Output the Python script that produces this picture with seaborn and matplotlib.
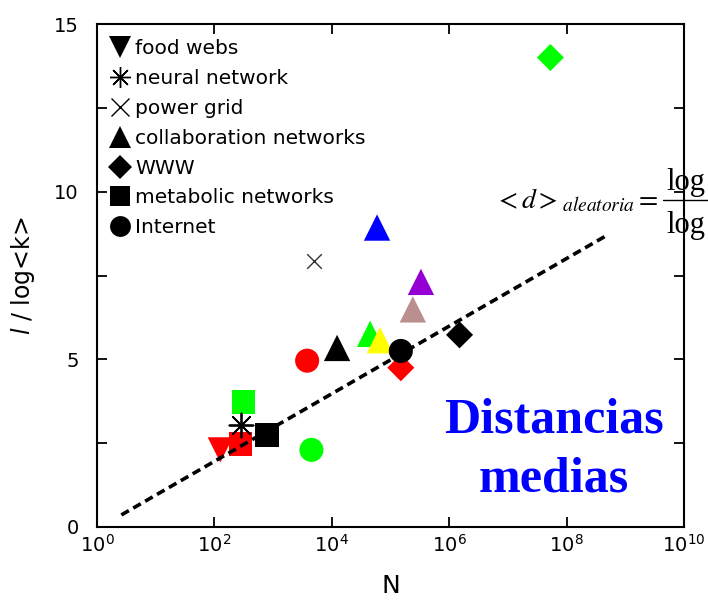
import matplotlib
matplotlib.use("Agg")
import matplotlib.pyplot as plt
from matplotlib.lines import Line2D
import seaborn as sns
import pandas as pd

# ---------------- data ----------------
types = ["food webs", "neural network", "power grid", "collaboration networks",
         "WWW", "metabolic networks", "Internet"]

pt_type = ["food webs", "neural network", "power grid",
           "collaboration networks", "collaboration networks", "collaboration networks",
           "collaboration networks", "collaboration networks", "collaboration networks",
           "WWW", "WWW", "WWW",
           "metabolic networks", "metabolic networks", "metabolic networks",
           "Internet", "Internet", "Internet"]
pt_N = [126, 282, 4941,
        59000, 330000, 240000, 45000, 66000, 12300,
        5.3e7, 1.5e5, 1.5e6,
        315, 790, 280,
        3800, 1.5e5, 4500]
pt_val = [2.30, 3.04, 7.94,
          8.93, 7.31, 6.49, 5.76, 5.57, 5.34,
          14.0, 4.75, 5.73,
          3.73, 2.75, 2.48,
          4.96, 5.25, 2.30]
pt_color = ["red", "black", "black",
            "blue", "purple", "rosybrown", "green", "yellow", "black",
            "green", "red", "black",
            "green", "black", "red",
            "red", "black", "green"]

line_N = [2.6, 5.1e8]
line_val = [0.36, 8.72]

x_ticks = [1e0, 1e2, 1e4, 1e6, 1e8, 1e10]
y_ticks = [0, 5, 10, 15]

# ---------------- style ----------------
sns.set_style("ticks")
plt.rcParams["font.family"] = ["DejaVu Sans"]
plt.rcParams["mathtext.fontset"] = "dejavusans"
for k in ("text.color", "axes.labelcolor", "xtick.color", "ytick.color",
          "axes.edgecolor"):
    plt.rcParams[k] = "black"

color_map = {"red": "#ff0000", "black": "#000000", "blue": "#0000ff",
             "purple": "#9400d3", "rosybrown": "#bc8f8f", "green": "#00ff00",
             "yellow": "#ffff00"}
marker_map = {"food webs": "v", "neural network": (8, 2, 0), "power grid": "x",
              "collaboration networks": "^", "WWW": "D",
              "metabolic networks": "s", "Internet": "o"}
size_map = {"food webs": 330, "collaboration networks": 360, "WWW": 190,
            "metabolic networks": 290, "Internet": 300}
legend_ms = {"food webs": 16, "neural network": 15, "power grid": 13,
             "collaboration networks": 16, "WWW": 12, "metabolic networks": 14,
             "Internet": 15}

df = pd.DataFrame({"type": pt_type, "N": pt_N, "val": pt_val, "color": pt_color})
filled = df[df["type"].isin(size_map.keys())]
lineart = df[~df["type"].isin(size_map.keys())]

W, H = 708, 604
fig = plt.figure(figsize=(W / 100, H / 100), dpi=100)
ax = fig.add_axes([97 / W, 1 - 527 / H, (684 - 97) / W, (527 - 24) / H])

sns.scatterplot(data=filled, x="N", y="val", hue="color", style="type", size="type",
                palette=color_map, markers={k: marker_map[k] for k in size_map},
                sizes=size_map, linewidth=0, legend=False, ax=ax, zorder=3)
sns.scatterplot(data=lineart[lineart["type"] == "power grid"], x="N", y="val",
                color="#333333", marker="x", s=110, linewidth=1.0, legend=False,
                ax=ax, zorder=3)
sns.scatterplot(data=lineart[lineart["type"] == "neural network"], x="N", y="val",
                color="black", marker=(8, 2, 0), s=300, linewidth=1.3, legend=False,
                ax=ax, zorder=3)

sns.lineplot(x=line_N, y=line_val, color="black", lw=2.6, ax=ax, zorder=4)
ax.lines[-1].set_dashes([2.4, 1.4])

ax.set_xscale("log")
ax.set_xlim(1e0, 1e10)
ax.set_ylim(0, 15)
ax.set_xticks(x_ticks)
ax.xaxis.set_minor_locator(matplotlib.ticker.NullLocator())
ax.set_yticks(y_ticks)
ax.set_yticks([2.5, 7.5, 12.5], minor=True)
ax.tick_params(which="both", direction="in", top=True, right=True, width=1.3,
               length=7, labelsize=14, pad=5, colors="black")
ax.tick_params(axis="y", pad=13)
for sp in ax.spines.values():
    sp.set_linewidth(1.5)
    sp.set_visible(True)
    sp.set_color("black")

ax.set_xlabel("N", fontsize=18, labelpad=13, color="black")
ax.set_ylabel("$l$ / log<k>", fontsize=17, labelpad=12, color="black")

handles = [Line2D([], [], ls="", marker=marker_map[t], color="black",
                  markersize=legend_ms[t],
                  markeredgewidth=(1.0 if t in ("power grid", "neural network") else 0))
           for t in types]
leg = ax.legend(handles, types, loc="upper left", bbox_to_anchor=(0.024, 0.970),
                frameon=False, fontsize=14.5, handlelength=0.9, handletextpad=0.3,
                labelspacing=0.54, borderaxespad=0, borderpad=0)
for t in leg.get_texts():
    t.set_color("black")

ax.text(0.778, 0.187, "Distancias", transform=ax.transAxes, ha="center",
        va="baseline", color="#0000ff", fontsize=36, fontweight="bold",
        family="Liberation Serif", zorder=5)
ax.text(0.778, 0.0696, "medias", transform=ax.transAxes, ha="center",
        va="baseline", color="#0000ff", fontsize=36, fontweight="bold",
        family="Liberation Serif", zorder=5)

# formula (runs off the right edge like the reference)
fig.text(494 / W, 1 - 208 / H, r"$<\mathit{d}>_{\mathit{aleatoria}}=$",
         fontsize=20, ha="left", va="baseline", math_fontfamily="stix")
fig.text(666 / W, 1 - 190 / H, "log", fontsize=22, ha="left", va="baseline",
         family="Liberation Serif")
fig.text(666 / W, 1 - 233 / H, "log", fontsize=22, ha="left", va="baseline",
         family="Liberation Serif")
fig.add_artist(Line2D([663 / W, 1.0], [1 - 200 / H, 1 - 200 / H],
                      transform=fig.transFigure, color="black", lw=1.0))

fig.savefig("out.png", dpi=100)
